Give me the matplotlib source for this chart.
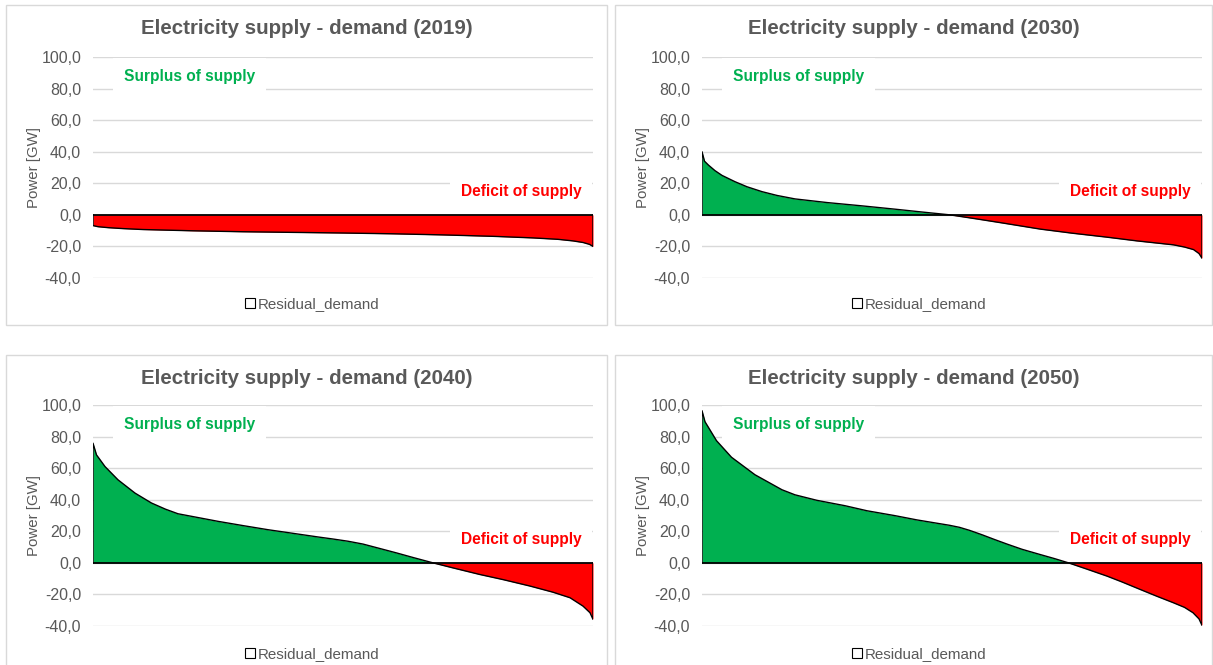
import matplotlib
matplotlib.use("Agg")
import matplotlib.pyplot as plt
from matplotlib.patches import Rectangle
from matplotlib.lines import Line2D
import numpy as np

# ---- data: share of year (%) sorted by residual value, residual supply-demand [GW]
years = ["2019", "2030", "2040", "2050"]

pct_2019 = [0, 1, 3, 6, 10, 20, 30, 40, 50, 60, 70, 80, 88, 93, 96, 98, 99.3, 100]
val_2019 = [-6.8, -7.5, -8.1, -8.7, -9.3, -10.1, -10.7, -11.1, -11.5, -12.0, -12.7,
            -13.6, -14.6, -15.5, -16.5, -17.5, -18.7, -20.0]

pct_2030 = [0, 0.5, 1.3, 2.6, 4, 6.6, 9, 12, 15, 18.6, 25, 32, 38.6, 44, 49.6, 55,
            60, 67.6, 74, 80.9, 87, 94.3, 96.5, 98.3, 99.4, 100]
val_2030 = [40, 34, 31.5, 28, 25, 21, 17.8, 14.7, 12.3, 10.1, 7.8, 5.7, 3.6, 1.8, 0,
            -2.6, -5.1, -9, -11.6, -14.1, -16.5, -19, -20.4, -22, -24.5, -27.5]

pct_2040 = [0, 0.7, 2.4, 5, 8.4, 11.7, 14.5, 17, 20, 25, 30, 35, 40, 45, 48, 51,
            54, 57, 60.7, 64, 68, 72, 77.4, 82, 87.4, 92, 95.4, 98, 99.4, 100]
val_2040 = [75.8, 68.4, 61, 52.6, 44.2, 37.9, 34, 31.1, 29.3, 26.3, 23.6, 21, 18.7,
            16.4, 15.1, 13.7, 11.9, 9.4, 6.3, 3.4, 0, -3.2, -7.4, -10.6, -14.7, -18.6,
            -22.1, -27.4, -31.6, -35.8]

pct_2050 = [0, 0.6, 2.9, 5.9, 10.6, 16, 18.6, 23, 28.6, 33, 38.6, 43, 47, 49.5,
            51.5, 53.5, 56, 58.5, 61, 64, 67.6, 70.5, 73.3, 77, 81, 84, 87.6, 91,
            94.3, 96.5, 98.2, 99.4, 100]
val_2050 = [96.4, 89.4, 77.4, 66.9, 55.8, 46.3, 43.1, 39.6, 36.2, 33.0, 29.9, 27.2,
            25.1, 23.8, 22.5, 20.6, 17.8, 14.8, 11.9, 8.6, 5.3, 2.7, 0, -4.0, -8.4,
            -12.1, -16.8, -21.2, -25.3, -28.2, -31.6, -35.5, -39.6]

yticks = [-40, -20, 0, 20, 40, 60, 80, 100]
title_fmt = "Electricity supply - demand ({})"
legend_label = "Residual_demand"
ylabel = "Power [GW]"
surplus_text = "Surplus of supply"
deficit_text = "Deficit of supply"

series = [(pct_2019, val_2019), (pct_2030, val_2030), (pct_2040, val_2040), (pct_2050, val_2050)]

# ---- styling
W, H = 1213, 665
GREEN = "#00B050"
RED = "#FF0000"
GRAY_TXT = "#595959"
GRID = "#D9D9D9"
plt.rcParams["font.family"] = ["Liberation Sans", "DejaVu Sans"]

fig = plt.figure(figsize=(W / 100, H / 100), dpi=100)

# panel geometry in pixels
panels = [
    (6, 5, 607, 325, 93, 593, 57, 278),
    (615, 5, 1212, 325, 702, 1202, 57, 278),
    (6, 355, 607, 675, 93, 593, 405, 626),
    (615, 355, 1212, 675, 702, 1202, 405, 626),
]


def fx(px):
    return px / W


def fy(py):
    return 1 - py / H


for (bl, bt, br, bb, al, ar, at, ab), yr, (xs, ys) in zip(panels, years, series):
    fig.patches.append(Rectangle((fx(bl), fy(bb)), fx(br - bl), (bb - bt) / H,
                                 transform=fig.transFigure, fill=False,
                                 edgecolor=GRID, linewidth=1.0, zorder=0))
    ax = fig.add_axes([fx(al), fy(ab), fx(ar - al), (ab - at) / H])
    xs = np.asarray(xs, float)
    ys = np.asarray(ys, float)
    ax.fill_between(xs, ys, 0, where=ys >= 0, interpolate=True, color=GREEN, linewidth=0, zorder=2)
    ax.fill_between(xs, ys, 0, where=ys <= 0, interpolate=True, color=RED, linewidth=0, zorder=2)
    ox = np.concatenate([[xs[0]], xs, [xs[-1]]])
    oy = np.concatenate([[0], ys, [0]])
    ax.plot(ox, oy, color="black", linewidth=1.0, zorder=3, solid_joinstyle="round")
    ax.plot([xs[0], xs[-1]], [0, 0], color="black", linewidth=1.3, zorder=3)

    ax.set_xlim(0, 100)
    ax.set_ylim(-40, 100)
    ax.set_yticks(yticks)
    ax.set_yticklabels([f"{v:.1f}".replace(".", ",") for v in yticks])
    ax.set_xticks([])
    ax.tick_params(axis="y", length=0, pad=8.5, labelsize=11.5, labelcolor=GRAY_TXT)
    ax.grid(axis="y", color=GRID, linewidth=1.0, zorder=0)
    ax.set_axisbelow(True)
    for s in ax.spines.values():
        s.set_visible(False)
    ax.set_ylabel(ylabel, fontsize=10.8, color=GRAY_TXT, labelpad=0)

    ax.text(0.193, 0.914, surplus_text, transform=ax.transAxes, ha="center", va="center",
            fontsize=11.2, fontweight="bold", color=GREEN, zorder=4,
            bbox=dict(boxstyle="square,pad=0.7", facecolor="white", edgecolor="none"))
    ax.text(0.856, 0.392, deficit_text, transform=ax.transAxes, ha="center", va="center",
            fontsize=11.2, fontweight="bold", color=RED, zorder=4,
            bbox=dict(boxstyle="square,pad=0.7", facecolor="white", edgecolor="none"))

    cx = (bl + br) / 2
    fig.text(fx(cx), fy(bt + 24), title_fmt.format(yr), ha="center", va="center",
             fontsize=14.8, fontweight="bold", color=GRAY_TXT)

    handle = Line2D([], [], marker="s", linestyle="none", markersize=7,
                    markerfacecolor="white", markeredgecolor="black", markeredgewidth=0.8)
    fig.legend([handle], [legend_label], loc="center", bbox_to_anchor=(fx(cx + 4), fy(bt + 299)),
               frameon=False, fontsize=10.9, labelcolor=GRAY_TXT, handletextpad=0.0,
               handlelength=1.0, borderaxespad=0)

fig.savefig("out.png", dpi=100)
